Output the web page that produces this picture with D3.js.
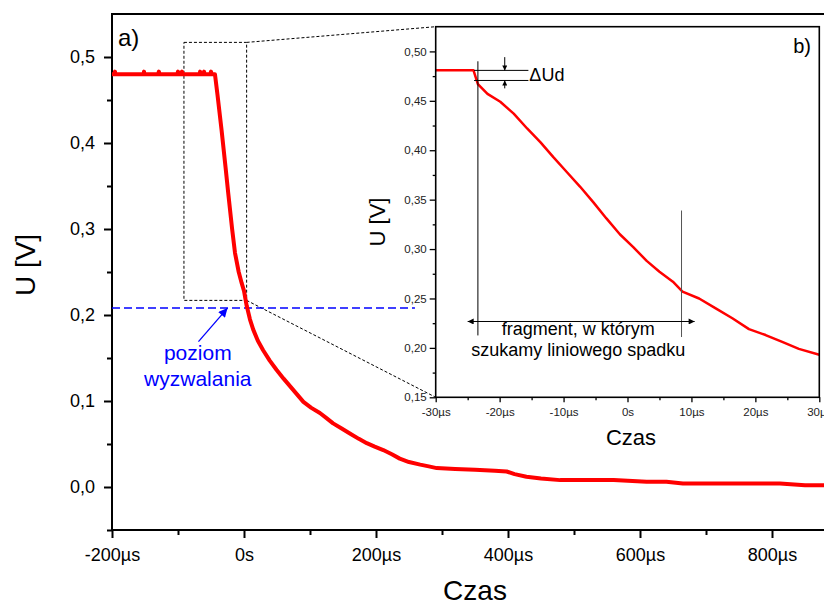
<!DOCTYPE html>
<html>
<head>
<meta charset="utf-8">
<script src="https://cdnjs.cloudflare.com/ajax/libs/d3/7.8.5/d3.min.js"></script>
<style>
body { margin: 0; background: #fff; }
text { font-family: "Liberation Sans", Arial, sans-serif; }
</style>
</head>
<body>
<div id="chart-area"></div>
<script>
// Data (time in µs, voltage in V)
var mainTime = [-200, -196, -195.5, -195, -152, -151.5, -151, -130, -129, -128, -101, -100, -99, -95, -94, -93,
  -67, -66.5, -66, -61, -60.5, -60, -51, -50, -49, -44, -40, -34, -28, -23.8, -18, -13.6, -8, -3.5, 0, 4, 9, 14,
  21, 29, 39, 49.5, 60, 70, 80, 90, 102, 115, 125, 135, 148, 161, 174, 186, 198, 211, 224, 236, 250, 267,
  280, 292, 320, 350, 380, 398, 410, 428, 450, 479, 520, 560, 610, 640, 665, 720, 780, 812, 850, 885];
var mainVolt = [0.480, 0.480, 0.483, 0.480, 0.480, 0.483, 0.480, 0.480, 0.483, 0.480, 0.480, 0.483, 0.480, 0.480, 0.483, 0.480,
  0.480, 0.483, 0.480, 0.480, 0.483, 0.480, 0.480, 0.483, 0.480, 0.480, 0.455, 0.415, 0.372, 0.341, 0.300, 0.272, 0.250, 0.237, 0.228, 0.211, 0.195, 0.183,
  0.170, 0.159, 0.147, 0.136, 0.126, 0.117, 0.108, 0.099, 0.092, 0.086, 0.080, 0.074, 0.068, 0.062, 0.056, 0.051, 0.047, 0.043, 0.038, 0.033, 0.029, 0.026,
  0.024, 0.022, 0.021, 0.020, 0.019, 0.018, 0.015, 0.012, 0.010, 0.008, 0.008, 0.008, 0.006, 0.006, 0.004, 0.004, 0.004, 0.004, 0.002, 0.002];

var insetTime = [-30, -24.1, -23.4, -21.9, -19.9, -17.8, -15.7, -13.6, -11.6, -9.5, -7.4, -5.3, -3.3, -1.2, 0.9,
  3.0, 5.0, 7.1, 8.6, 11.2, 13.8, 16.4, 19.0, 21.6, 24.2, 26.8, 30];
var insetVolt = [0.481, 0.481, 0.467, 0.457, 0.449, 0.437, 0.422, 0.408, 0.393, 0.378, 0.363, 0.347, 0.331, 0.315, 0.302,
  0.288, 0.277, 0.267, 0.257, 0.250, 0.240, 0.230, 0.219, 0.213, 0.206, 0.199, 0.193];

var mainXTicks = [-200, 0, 200, 400, 600, 800];
var mainXLabels = ["-200µs", "0s", "200µs", "400µs", "600µs", "800µs"];
var mainXMinor = [-100, 100, 300, 500, 700];
var mainYTicks = [0, 0.1, 0.2, 0.3, 0.4, 0.5];
var mainYLabels = ["0,0", "0,1", "0,2", "0,3", "0,4", "0,5"];
var mainYMinor = [-0.05, 0.05, 0.15, 0.25, 0.35, 0.45];

var insetXTicks = [-30, -20, -10, 0, 10, 20, 30];
var insetXLabels = ["-30µs", "-20µs", "-10µs", "0s", "10µs", "20µs", "30µs"];
var insetXMinor = [-25, -15, -5, 5, 15, 25];
var insetYTicks = [0.15, 0.20, 0.25, 0.30, 0.35, 0.40, 0.45, 0.50];
var insetYLabels = ["0,15", "0,20", "0,25", "0,30", "0,35", "0,40", "0,45", "0,50"];
var insetYMinor = [0.175, 0.225, 0.275, 0.325, 0.375, 0.425, 0.475];

var triggerLevel = 0.208;
var zoomBoxTime = [-91, 4];
var zoomBoxVolt = [0.217, 0.517];

var svg = d3.select("#chart-area").append("svg").attr("width", 824).attr("height", 603);

var defs = svg.append("defs");
function arrowMarker(id, color, w, h) {
  defs.append("marker").attr("id", id).attr("viewBox", "0 0 10 10").attr("refX", 10).attr("refY", 5)
    .attr("markerUnits", "userSpaceOnUse").attr("markerWidth", w).attr("markerHeight", h)
    .attr("orient", "auto-start-reverse")
    .append("path").attr("d", "M0,0 L10,5 L0,10 z").attr("fill", color);
}
arrowMarker("blueArrow", "#0000ff", 11, 9);
arrowMarker("blackArrow", "#000", 9, 6);
arrowMarker("smallArrow", "#000", 6, 5);

// Scales
var x = d3.scaleLinear().domain([-200, 885]).range([112, 828.1]);
var y = d3.scaleLinear().domain([-0.05, 0.55]).range([530, 14]);
var xi = d3.scaleLinear().domain([-30, 30]).range([435.7, 819.3]);
var yi = d3.scaleLinear().domain([0.15, 0.525]).range([397.3, 26.7]);

// Main axes
svg.append("g").attr("transform", "translate(0,530)")
  .call(d3.axisBottom(x).tickValues(mainXTicks).tickSizeInner(8).tickSizeOuter(0).tickPadding(10)
    .tickFormat(function(d, i) { return mainXLabels[i]; }));
svg.append("g").attr("transform", "translate(0,530)")
  .call(d3.axisBottom(x).tickValues(mainXMinor).tickSize(5).tickFormat(""));
svg.append("g").attr("transform", "translate(112,0)")
  .call(d3.axisLeft(y).tickValues(mainYTicks).tickSizeInner(8).tickSizeOuter(0).tickPadding(9)
    .tickFormat(function(d, i) { return mainYLabels[i]; }));
svg.append("g").attr("transform", "translate(112,0)")
  .call(d3.axisLeft(y).tickValues(mainYMinor).tickSize(5).tickFormat(""));
svg.selectAll(".domain").remove();
svg.selectAll(".tick line").attr("stroke", "#000").attr("stroke-width", 2);
svg.selectAll(".tick text").attr("font-size", "18px").attr("fill", "#000")
  .style("font-family", "'Liberation Sans', Arial, sans-serif");

svg.append("rect").attr("x", x(-200)).attr("y", y(0.55)).attr("width", x(885) - x(-200)).attr("height", y(-0.05) - y(0.55))
  .attr("fill", "none").attr("stroke", "#000").attr("stroke-width", 2);

// Zoom box and connectors
var dash = "3,2";
svg.append("rect").attr("x", x(zoomBoxTime[0])).attr("y", y(zoomBoxVolt[1]))
  .attr("width", x(zoomBoxTime[1]) - x(zoomBoxTime[0])).attr("height", y(zoomBoxVolt[0]) - y(zoomBoxVolt[1]))
  .attr("fill", "none").attr("stroke", "#000").attr("stroke-width", 1).attr("stroke-dasharray", dash);
svg.append("line").attr("x1", x(zoomBoxTime[1])).attr("y1", y(zoomBoxVolt[1])).attr("x2", xi(-30)).attr("y2", yi(0.525))
  .attr("stroke", "#000").attr("stroke-width", 1).attr("stroke-dasharray", dash);
svg.append("line").attr("x1", x(zoomBoxTime[1])).attr("y1", y(zoomBoxVolt[0])).attr("x2", xi(-30)).attr("y2", yi(0.15))
  .attr("stroke", "#000").attr("stroke-width", 1).attr("stroke-dasharray", dash);

// Trigger level
svg.append("line").attr("x1", x(-200)).attr("x2", x(259)).attr("y1", y(triggerLevel)).attr("y2", y(triggerLevel))
  .attr("stroke", "#0000ff").attr("stroke-width", 1.5).attr("stroke-dasharray", "8,4");
svg.append("line").attr("x1", x(-69)).attr("y1", y(0.169)).attr("x2", x(-25)).attr("y2", y(triggerLevel))
  .attr("stroke", "#0000ff").attr("stroke-width", 1.3).attr("marker-end", "url(#blueArrow)");
svg.append("text").attr("x", x(-70)).attr("y", y(0.1477)).attr("text-anchor", "middle").attr("font-size", "21px")
  .attr("fill", "#0000ff").text("poziom");
svg.append("text").attr("x", x(-70)).attr("y", y(0.1174)).attr("text-anchor", "middle").attr("font-size", "21px")
  .attr("fill", "#0000ff").text("wyzwalania");

// Main trace
var line = d3.line().x(function(d, i) { return x(mainTime[i]); }).y(function(d) { return y(d); });
svg.append("path").datum(mainVolt).attr("d", line).attr("fill", "none").attr("stroke", "#ff0000")
  .attr("stroke-width", 4).attr("stroke-linejoin", "round");

svg.append("text").attr("x", 118).attr("y", 46).attr("font-size", "24px").text("a)");
svg.append("text").attr("transform", "translate(35,265) rotate(-90)").attr("text-anchor", "middle")
  .attr("font-size", "28px").text("U [V]");
svg.append("text").attr("x", 475).attr("y", 600).attr("text-anchor", "middle").attr("font-size", "28px").text("Czas");

// Inset
var inset = svg.append("g");
inset.append("rect").attr("x", xi(-30)).attr("y", yi(0.525)).attr("width", xi(30) - xi(-30)).attr("height", yi(0.15) - yi(0.525))
  .attr("fill", "#fff");
inset.append("g").attr("transform", "translate(0,397.3)")
  .call(d3.axisBottom(xi).tickValues(insetXTicks).tickSizeInner(5).tickSizeOuter(0).tickPadding(6)
    .tickFormat(function(d, i) { return insetXLabels[i]; }));
inset.append("g").attr("transform", "translate(0,397.3)")
  .call(d3.axisBottom(xi).tickValues(insetXMinor).tickSize(3).tickFormat(""));
inset.append("g").attr("transform", "translate(435.7,0)")
  .call(d3.axisLeft(yi).tickValues(insetYTicks).tickSizeInner(6).tickSizeOuter(0).tickPadding(3)
    .tickFormat(function(d, i) { return insetYLabels[i]; }));
inset.append("g").attr("transform", "translate(435.7,0)")
  .call(d3.axisLeft(yi).tickValues(insetYMinor).tickSize(3).tickFormat(""));
inset.selectAll(".domain").remove();
inset.selectAll(".tick line").attr("stroke", "#000").attr("stroke-width", 1.3);
inset.selectAll(".tick text").attr("font-size", "11.5px").attr("fill", "#222")
  .style("font-family", "'Liberation Sans', Arial, sans-serif");

var iline = d3.line().x(function(d, i) { return xi(insetTime[i]); }).y(function(d) { return yi(d); });
inset.append("path").datum(insetVolt).attr("d", iline).attr("fill", "none").attr("stroke", "#ff0000")
  .attr("stroke-width", 2.5).attr("stroke-linejoin", "round");

inset.append("rect").attr("x", xi(-30)).attr("y", yi(0.525)).attr("width", xi(30) - xi(-30)).attr("height", yi(0.15) - yi(0.525))
  .attr("fill", "none").attr("stroke", "#000").attr("stroke-width", 1.6);

// Inset annotations
inset.append("line").attr("x1", xi(-23.4)).attr("x2", xi(-23.4)).attr("y1", yi(0.490)).attr("y2", yi(0.2126))
  .attr("stroke", "#000").attr("stroke-width", 1);
inset.append("line").attr("x1", xi(8.45)).attr("x2", xi(8.45)).attr("y1", yi(0.339)).attr("y2", yi(0.211))
  .attr("stroke", "#555").attr("stroke-width", 1);
inset.append("line").attr("x1", xi(-25)).attr("x2", xi(10.5)).attr("y1", yi(0.2267)).attr("y2", yi(0.2267))
  .attr("stroke", "#000").attr("stroke-width", 1)
  .attr("marker-start", "url(#blackArrow)").attr("marker-end", "url(#blackArrow)");
inset.append("text").attr("x", xi(-7.7)).attr("y", yi(0.2134)).attr("text-anchor", "middle").attr("font-size", "18px")
  .text("fragment, w którym");
inset.append("text").attr("x", xi(-7.7)).attr("y", yi(0.1922)).attr("text-anchor", "middle").attr("font-size", "18px")
  .text("szukamy liniowego spadku");

inset.append("line").attr("x1", xi(-24)).attr("x2", xi(-15.5)).attr("y1", yi(0.4808)).attr("y2", yi(0.4808))
  .attr("stroke", "#000").attr("stroke-width", 1);
inset.append("line").attr("x1", xi(-24)).attr("x2", xi(-15.5)).attr("y1", yi(0.4706)).attr("y2", yi(0.4706))
  .attr("stroke", "#000").attr("stroke-width", 1);
inset.append("line").attr("x1", xi(-19.2)).attr("x2", xi(-19.2)).attr("y1", yi(0.4942)).attr("y2", yi(0.4808))
  .attr("stroke", "#000").attr("stroke-width", 1).attr("marker-end", "url(#smallArrow)");
inset.append("line").attr("x1", xi(-19.2)).attr("x2", xi(-19.2)).attr("y1", yi(0.4626)).attr("y2", yi(0.4706))
  .attr("stroke", "#000").attr("stroke-width", 1).attr("marker-end", "url(#smallArrow)");
inset.append("text").attr("x", xi(-15.35)).attr("y", yi(0.4696)).attr("font-size", "18px").text("ΔUd");

inset.append("text").attr("x", 811).attr("y", 53).attr("text-anchor", "end").attr("font-size", "20px").text("b)");
inset.append("text").attr("transform", "translate(385,222) rotate(-90)").attr("text-anchor", "middle")
  .attr("font-size", "22px").text("U [V]");
inset.append("text").attr("x", 631).attr("y", 445).attr("text-anchor", "middle").attr("font-size", "22px").text("Czas");
</script>
</body>
</html>
